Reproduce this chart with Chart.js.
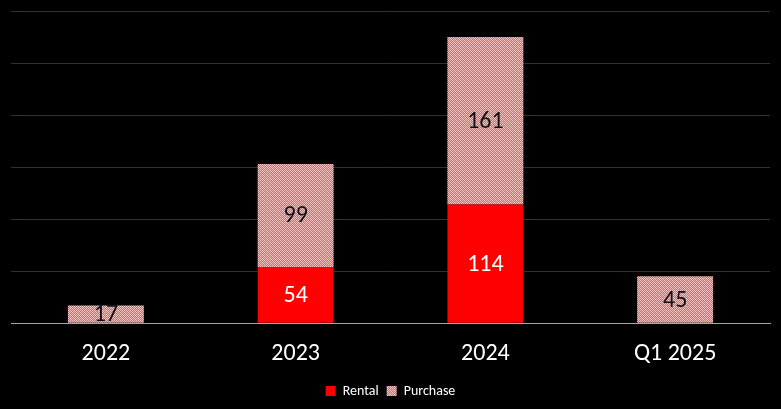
<!DOCTYPE html>
<html>
<head>
<meta charset="utf-8">
<script src="https://cdn.jsdelivr.net/npm/chart.js@4.4.1/dist/chart.umd.min.js"></script>
<style>
  html, body { margin: 0; padding: 0; background: #000; }
  #wrap { width: 781px; height: 409px; }
</style>
</head>
<body>
<div id="wrap"><canvas id="chart" width="781" height="409"></canvas></div>
<script>
const categories = ['2022', '2023', '2024', 'Q1 2025'];
const rental = [null, 54, 114, null];
const purchase = [17, 99, 161, 45];
const yTicks = [0, 50, 100, 150, 200, 250, 300];

// speckled pink fill for the Purchase series (checkerboard, slight variation)
function makePattern() {
  const c = document.createElement('canvas');
  c.width = 4; c.height = 4;
  const g = c.getContext('2d');
  const cols = [
    ['#f9c4c4', '#ec5a60', '#f6baba', '#ee6268'],
    ['#ee6066', '#fcd8d8', '#ea5a60', '#f8c0c0'],
    ['#f6bcbc', '#f0646a', '#fad0d0', '#ec5c62'],
    ['#ea5e64', '#f7bebe', '#f0686e', '#fde0e0']
  ];
  for (let r = 0; r < 4; r++) {
    for (let k = 0; k < 4; k++) {
      g.fillStyle = cols[r][k];
      g.fillRect(k, r, 1, 1);
    }
  }
  return g.createPattern(c, 'repeat');
}
const pat = makePattern();

// value labels drawn in the middle of each segment
const barLabels = {
  id: 'barLabels',
  afterDatasetsDraw(chart) {
    const ctx = chart.ctx;
    ctx.save();
    ctx.font = '24px Carlito, Lato, "Open Sans", sans-serif';
    ctx.textAlign = 'center';
    ctx.textBaseline = 'middle';
    chart.data.datasets.forEach((ds, i) => {
      const meta = chart.getDatasetMeta(i);
      meta.data.forEach((bar, j) => {
        const v = ds.data[j];
        if (v == null) return;
        ctx.fillStyle = i === 0 ? '#ffffff' : '#111111';
        ctx.fillText(String(v), bar.x, (bar.y + bar.base) / 2 + 1);
      });
    });
    ctx.restore();
  }
};

new Chart(document.getElementById('chart'), {
  type: 'bar',
  data: {
    labels: categories,
    datasets: [
      { label: 'Rental', data: rental, backgroundColor: '#ff0000', stack: 's' },
      { label: 'Purchase', data: purchase, backgroundColor: pat, stack: 's' }
    ]
  },
  options: {
    responsive: false,
    animation: false,
    categoryPercentage: 1,
    barPercentage: 0.4,
    layout: { padding: { left: 11, right: 11, top: 11, bottom: 1 } },
    plugins: {
      tooltip: { enabled: false },
      legend: {
        position: 'bottom',
        labels: {
          color: '#ffffff',
          boxWidth: 10,
          boxHeight: 10,
          padding: 8,
          font: { family: 'Carlito, Lato, "Open Sans", sans-serif', size: 14 }
        }
      }
    },
    scales: {
      x: {
        stacked: true,
        grid: { display: false },
        border: { color: '#a6a6a6', width: 1 },
        ticks: {
          color: '#ffffff',
          padding: 8,
          font: { family: 'Carlito, Lato, "Open Sans", sans-serif', size: 24 }
        }
      },
      y: {
        stacked: true,
        min: 0,
        max: yTicks[yTicks.length - 1],
        afterBuildTicks(axis) { axis.ticks = yTicks.map(v => ({ value: v })); },
        ticks: { display: false },
        border: { display: false },
        grid: { color: '#2c323c', lineWidth: 1, drawTicks: false }
      }
    }
  },
  plugins: [barLabels]
});
</script>
</body>
</html>
